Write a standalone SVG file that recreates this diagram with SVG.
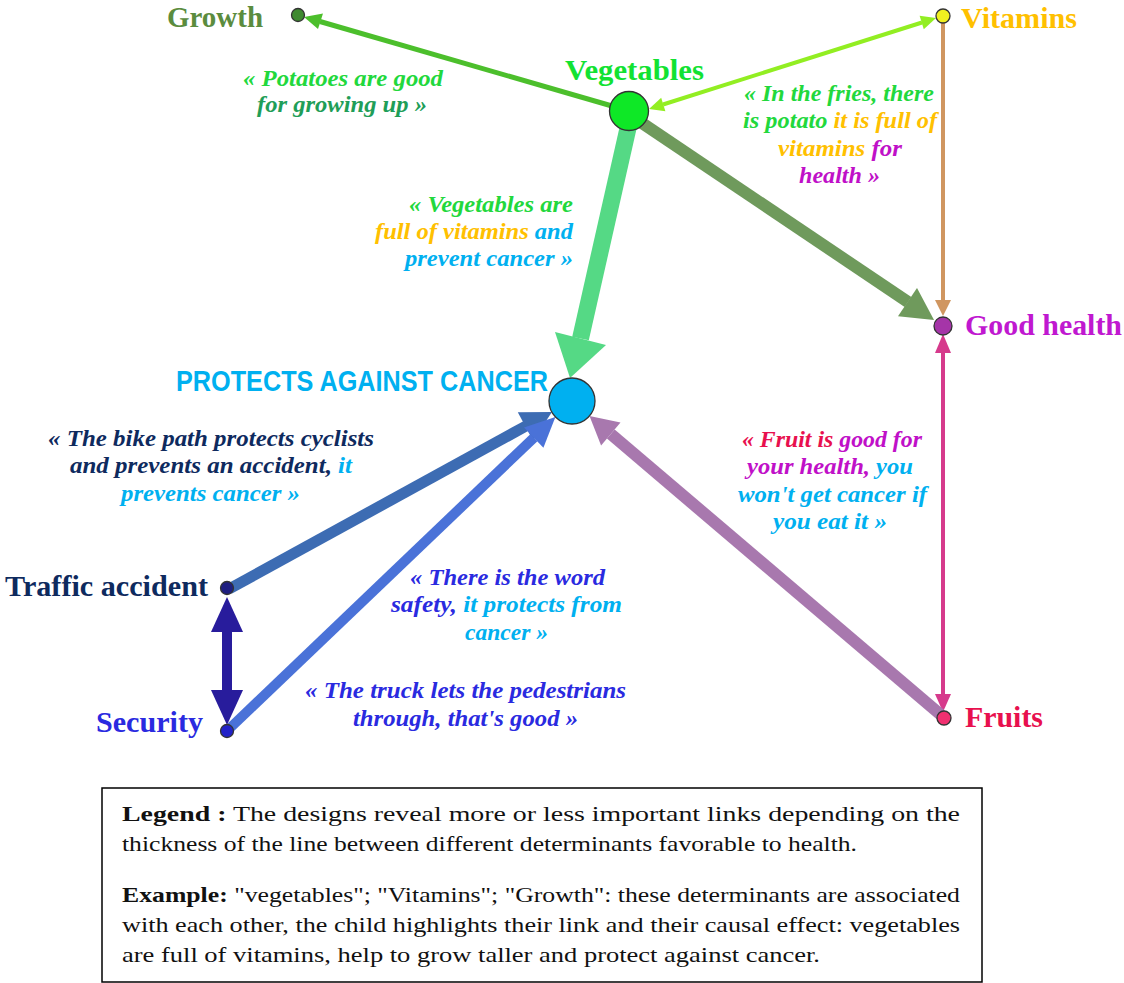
<svg xmlns="http://www.w3.org/2000/svg" width="1124" height="983" viewBox="0 0 1124 983">
<style>
.lbl{font-family:"Liberation Serif",serif;font-weight:bold;font-size:29px}
.pac{font-family:"Liberation Sans Narrow","Liberation Sans",sans-serif;font-weight:bold;font-size:29px;fill:#00b0f0}
.q{font-family:"Liberation Serif",serif;font-weight:bold;font-style:italic;font-size:23px}
.lg{font-family:"Liberation Serif",serif;font-size:21px;fill:#111}
.b{font-weight:bold}
.node{stroke:#333;stroke-width:1.3}
.gr{fill:#22d83c}.dg{fill:#1f9e58}.or{fill:#ffc000}.pu{fill:#c010c8}.cy{fill:#00b0f0}.nv{fill:#0e2a5e}.bl{fill:#2a2ae0}.rd{fill:#e8104e}
line{stroke-linecap:butt}
</style>
<g id="connectors">
  <!-- Vegetables -> Growth -->
  <line x1="612" y1="106" x2="320" y2="21.5" stroke="#4cbf2c" stroke-width="5"/>
  <polygon points="304,17 323,13.5 318,29" fill="#4cbf2c"/>
  <!-- Vegetables <-> Vitamins -->
  <line x1="663" y1="104.5" x2="922" y2="22.5" stroke="#92ee22" stroke-width="4"/>
  <polygon points="936,18 919.6,15.8 923.8,29.2" fill="#92ee22"/>
  <polygon points="649,109 661.2,97.8 665.4,111.2" fill="#92ee22"/>
  <!-- Vegetables -> Good health -->
  <line x1="636" y1="119" x2="908" y2="302" stroke="#6f9a5c" stroke-width="12"/>
  <polygon points="934,320 898,316.2 917,288" fill="#6f9a5c"/>
  <!-- Vegetables -> Protects against cancer -->
  <line x1="631" y1="115" x2="580.5" y2="338.5" stroke="#55d985" stroke-width="17"/>
  <polygon points="570,378 555,332 606,345" fill="#55d985"/>
  <!-- Vitamins -> Good health -->
  <line x1="943" y1="23" x2="943" y2="302" stroke="#d09660" stroke-width="4"/>
  <polygon points="943,316 935,300 951,300" fill="#d09660"/>
  <!-- Good health <-> Fruits -->
  <line x1="943" y1="350" x2="943" y2="697" stroke="#d63a8c" stroke-width="4"/>
  <polygon points="943,334 935,353 951,353" fill="#d63a8c"/>
  <polygon points="943,712 935,694 951,694" fill="#d63a8c"/>
  <!-- Fruits -> Protects against cancer -->
  <line x1="941" y1="715" x2="610.8" y2="434" stroke="#a878ae" stroke-width="12"/>
  <polygon points="589.5,416 620.5,422.6 601.1,445.4" fill="#a878ae"/>
  <!-- Traffic accident -> Protects against cancer -->
  <line x1="229" y1="589" x2="526" y2="426" stroke="#3d6cb3" stroke-width="11"/>
  <polygon points="552,412 533,440.4 517.8,412.2" fill="#3d6cb3"/>
  <!-- Security -> Protects against cancer -->
  <line x1="229" y1="729" x2="534" y2="437.6" stroke="#4a72d8" stroke-width="10"/>
  <polygon points="555.4,417 543.4,447.7 524,427.5" fill="#4a72d8"/>
  <!-- Traffic accident <-> Security -->
  <line x1="227" y1="628" x2="227" y2="694" stroke="#281c9c" stroke-width="10"/>
  <polygon points="227,597 211,632 243,632" fill="#281c9c"/>
  <polygon points="227,725 211,690 243,690" fill="#281c9c"/>
</g>

<g id="node-growth">
  <circle class="node" cx="298" cy="15" r="6.5" fill="#3f8a30"/>
  <text class="lbl" x="167" y="27" textLength="96" lengthAdjust="spacingAndGlyphs" fill="#5b8c3e">Growth</text>
</g>
<g id="node-vegetables">
  <circle class="node" cx="629" cy="111" r="19.5" fill="#0ee826"/>
  <text class="lbl" x="565" y="80" textLength="139" lengthAdjust="spacingAndGlyphs" fill="#12e232">Vegetables</text>
</g>
<g id="node-vitamins">
  <circle class="node" cx="943" cy="16" r="7" fill="#f0f020"/>
  <text class="lbl" x="961" y="28" textLength="116" lengthAdjust="spacingAndGlyphs" fill="#ffc000">Vitamins</text>
</g>
<g id="node-good-health">
  <circle class="node" cx="943" cy="326" r="9" fill="#a535a8"/>
  <text class="lbl" x="965" y="335" textLength="157" lengthAdjust="spacingAndGlyphs" fill="#c018d0">Good health</text>
</g>
<g id="node-cancer">
  <circle class="node" cx="572" cy="401" r="23" fill="#00b0f0"/>
  <text class="pac" x="176" y="391" textLength="372" lengthAdjust="spacingAndGlyphs">PROTECTS AGAINST CANCER</text>
</g>
<g id="node-traffic">
  <circle class="node" cx="227" cy="588" r="6.5" fill="#1e1e80"/>
  <text class="lbl" x="5" y="596" textLength="203" lengthAdjust="spacingAndGlyphs" fill="#0e2a5e">Traffic accident</text>
</g>
<g id="node-security">
  <circle class="node" cx="227" cy="731" r="6.5" fill="#2222c8"/>
  <text class="lbl" x="96" y="732" textLength="107" lengthAdjust="spacingAndGlyphs" fill="#2a2ae0">Security</text>
</g>
<g id="node-fruits">
  <circle class="node" cx="944" cy="718" r="7" fill="#f03070"/>
  <text class="lbl" x="965" y="727" textLength="78" lengthAdjust="spacingAndGlyphs" fill="#e8104e">Fruits</text>
</g>

<g id="quotes">
  <text class="q gr" x="243" y="86" textLength="200" lengthAdjust="spacingAndGlyphs">« Potatoes are good</text>
  <text class="q dg" x="257" y="112" textLength="170" lengthAdjust="spacingAndGlyphs">for growing up »</text>

  <text class="q gr" x="744" y="101" textLength="190" lengthAdjust="spacingAndGlyphs">« In the fries, there</text>
  <text class="q" x="743" y="128" textLength="194" lengthAdjust="spacingAndGlyphs"><tspan class="gr">is potato </tspan><tspan class="or">it is full of</tspan></text>
  <text class="q" x="778" y="156" textLength="124" lengthAdjust="spacingAndGlyphs"><tspan class="or">vitamins </tspan><tspan class="pu">for</tspan></text>
  <text class="q pu" x="799" y="183" textLength="81" lengthAdjust="spacingAndGlyphs">health »</text>

  <text class="q gr" x="409" y="212" textLength="164" lengthAdjust="spacingAndGlyphs">« Vegetables are</text>
  <text class="q" x="375" y="239" textLength="198" lengthAdjust="spacingAndGlyphs"><tspan class="or">full of vitamins </tspan><tspan class="cy">and</tspan></text>
  <text class="q cy" x="405" y="266" textLength="168" lengthAdjust="spacingAndGlyphs">prevent cancer »</text>

  <text class="q nv" x="48" y="446" textLength="326" lengthAdjust="spacingAndGlyphs">« The bike path protects cyclists</text>
  <text class="q" x="70" y="473" textLength="282" lengthAdjust="spacingAndGlyphs"><tspan class="nv">and prevents an accident, </tspan><tspan class="cy">it</tspan></text>
  <text class="q cy" x="121" y="501" textLength="179" lengthAdjust="spacingAndGlyphs">prevents cancer »</text>

  <text class="q bl" x="410" y="585" textLength="195" lengthAdjust="spacingAndGlyphs">« There is the word</text>
  <text class="q" x="391" y="612" textLength="231" lengthAdjust="spacingAndGlyphs"><tspan class="bl">safety, </tspan><tspan class="cy">it protects from</tspan></text>
  <text class="q cy" x="465" y="640" textLength="83" lengthAdjust="spacingAndGlyphs">cancer »</text>

  <text class="q bl" x="305" y="698" textLength="321" lengthAdjust="spacingAndGlyphs">« The truck lets the pedestrians</text>
  <text class="q bl" x="353" y="726" textLength="225" lengthAdjust="spacingAndGlyphs">through, that's good »</text>

  <text class="q" x="742" y="447" textLength="180" lengthAdjust="spacingAndGlyphs"><tspan class="rd">« Fruit is </tspan><tspan class="pu">good for</tspan></text>
  <text class="q" x="747" y="474" textLength="166" lengthAdjust="spacingAndGlyphs"><tspan class="pu">your health, </tspan><tspan class="cy">you</tspan></text>
  <text class="q cy" x="738" y="502" textLength="189" lengthAdjust="spacingAndGlyphs">won't get cancer if</text>
  <text class="q cy" x="773" y="529" textLength="114" lengthAdjust="spacingAndGlyphs">you eat it »</text>
</g>

<g id="legend">
  <rect x="102" y="788" width="880" height="194" fill="#fff" stroke="#000" stroke-width="1.5"/>
  <text class="lg" x="122" y="821" textLength="838" lengthAdjust="spacingAndGlyphs"><tspan class="b">Legend :</tspan> The designs reveal more or less important links depending on the</text>
  <text class="lg" x="122" y="851" textLength="735" lengthAdjust="spacingAndGlyphs">thickness of the line between different determinants favorable to health.</text>
  <text class="lg" x="122" y="902" textLength="838" lengthAdjust="spacingAndGlyphs"><tspan class="b">Example:</tspan> "vegetables"; "Vitamins"; "Growth": these determinants are associated</text>
  <text class="lg" x="122" y="932" textLength="838" lengthAdjust="spacingAndGlyphs">with each other, the child highlights their link and their causal effect: vegetables</text>
  <text class="lg" x="122" y="962" textLength="698" lengthAdjust="spacingAndGlyphs">are full of vitamins, help to grow taller and protect against cancer.</text>
</g>
</svg>
